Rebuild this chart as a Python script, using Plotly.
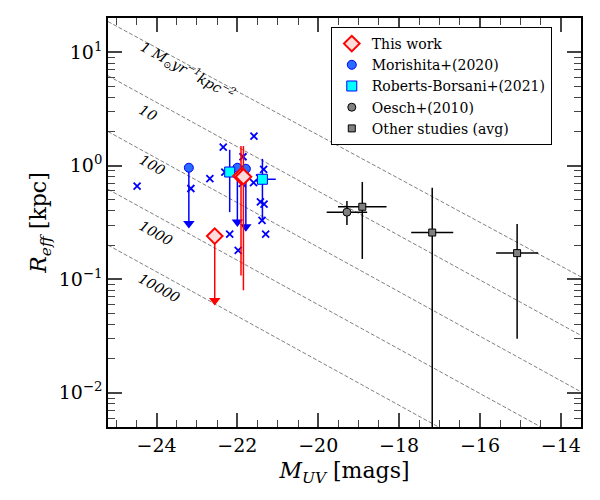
import numpy as np
import plotly.graph_objects as go

# lines of constant SFR surface density, read at the two x limits
sigma_text = ["1 M<sub>⊙</sub>yr<sup>−1</sup>kpc<sup>−2</sup>", "10", "100", "1000", "10000"]
sigma_m = [-25.2, -13.5]
sigma_r_left = [18.6, 6.2, 2.0, 0.62, 0.20]
sigma_r_right = [0.105, 0.032, 0.0102, 0.0032, 0.00102]
label_m = [-23.23, -24.2, -24.1, -24.02, -23.93]
label_r = [6.8, 2.9, 1.02, 0.254, 0.084]

# Morishita+ individual clumps (crosses)
cross_m = [-24.48, -23.15, -22.68, -22.35, -21.59, -21.86, -22.31, -21.35, -21.45,
           -21.6, -21.88, -21.43, -21.34, -21.39, -21.3, -22.19, -21.98]
cross_r = [0.66, 0.63, 0.77, 1.46, 1.82, 1.20, 0.88, 0.93, 0.78,
           0.71, 0.70, 0.48, 0.46, 0.33, 0.25, 0.25, 0.18]

# Morishita+(2020) upper limits
mori_m = [-23.2, -22.0, -21.79]
mori_r = [0.96, 0.96, 0.94]
mori_lim = [0.31, 0.32, 0.29]

# Roberts-Borsani+(2021)
rb_m = [-22.19, -21.38]
rb_r = [0.88, 0.76]
rb_hi = [1.38, 1.15]
rb_lo = [0.39, 0.33]
rb_xplus = [0.0, 0.33]
rb_xminus = [0.0, 0.14]

# This work
tw_m = [-21.91, -21.85]
tw_r = [0.81, 0.80]
tw_hi = [1.49, 1.49]
tw_lo = [0.108, 0.080]
tw_lim_m = [-22.56]
tw_lim_r = [0.24]
tw_lim = [0.065]

# Oesch+(2010)
oe_m = [-19.29]
oe_r = [0.39]
oe_hi = [0.49]
oe_lo = [0.30]
oe_xerr = [0.5]

# Other studies (avg)
ot_m = [-18.91, -17.18, -15.08]
ot_r = [0.435, 0.258, 0.17]
ot_hi = [0.72, 0.64, 0.306]
ot_lo = [0.151, 0.001, 0.030]
ot_xerr = [0.6, 0.52, 0.52]

serif = "DejaVu Serif"
fig = go.Figure()

for i in range(len(sigma_text)):
    fig.add_trace(go.Scatter(
        x=sigma_m, y=[sigma_r_left[i], sigma_r_right[i]], mode="lines",
        line=dict(color="gray", width=1, dash="4px,2px"), showlegend=False, hoverinfo="skip"))
    fig.add_annotation(x=label_m[i], y=np.log10(label_r[i]), text=sigma_text[i],
                       showarrow=False, textangle=29,
                       font=dict(family=serif, size=14, color="black", style="italic"))

fig.add_trace(go.Scatter(
    x=cross_m, y=cross_r, mode="markers", showlegend=False,
    marker=dict(symbol="x-thin", size=7, line=dict(color="blue", width=1.8))))


def sub(a, b):
    return [x - y for x, y in zip(a, b)]


# limit arrows (Morishita)
fig.add_trace(go.Scatter(
    x=mori_m, y=mori_r, mode="markers", showlegend=False,
    error_y=dict(type="data", symmetric=False, array=[0] * 3, arrayminus=sub(mori_r, mori_lim),
                 width=0, thickness=1.5, color="blue"),
    marker=dict(size=1, color="blue")))
fig.add_trace(go.Scatter(
    x=mori_m, y=mori_lim, mode="markers", showlegend=False,
    marker=dict(symbol="triangle-down", size=10, color="blue")))
fig.add_trace(go.Scatter(
    x=mori_m, y=mori_r, mode="markers", name="Morishita+(2020)",
    marker=dict(symbol="circle", size=9, color="#2a6cff", line=dict(color="blue", width=1))))

fig.add_trace(go.Scatter(
    x=rb_m, y=rb_r, mode="markers", name="Roberts-Borsani+(2021)",
    error_y=dict(type="data", symmetric=False, array=sub(rb_hi, rb_r), arrayminus=sub(rb_r, rb_lo),
                 width=0, thickness=1.5, color="blue"),
    error_x=dict(type="data", symmetric=False, array=rb_xplus, arrayminus=rb_xminus,
                 width=0, thickness=1.5, color="blue"),
    marker=dict(symbol="square", size=10, color="cyan", line=dict(color="blue", width=1))))

# This work
fig.add_trace(go.Scatter(
    x=tw_lim_m, y=tw_lim_r, mode="markers", showlegend=False,
    error_y=dict(type="data", symmetric=False, array=[0], arrayminus=sub(tw_lim_r, tw_lim),
                 width=0, thickness=1.5, color="red"),
    marker=dict(size=1, color="red")))
fig.add_trace(go.Scatter(
    x=tw_lim_m, y=tw_lim, mode="markers", showlegend=False,
    marker=dict(symbol="triangle-down", size=10, color="red")))
fig.add_trace(go.Scatter(
    x=tw_m + tw_lim_m, y=tw_r + tw_lim_r, mode="markers", name="This work",
    error_y=dict(type="data", symmetric=False, array=sub(tw_hi, tw_r) + [0],
                 arrayminus=sub(tw_r, tw_lo) + [0], width=0, thickness=1.5, color="red"),
    marker=dict(symbol="diamond", size=12, color="#ffdcdc", line=dict(color="red", width=2))))

fig.add_trace(go.Scatter(
    x=oe_m, y=oe_r, mode="markers", name="Oesch+(2010)",
    error_y=dict(type="data", symmetric=False, array=sub(oe_hi, oe_r), arrayminus=sub(oe_r, oe_lo),
                 width=0, thickness=1.5, color="black"),
    error_x=dict(type="data", array=oe_xerr, width=0, thickness=1.5, color="black"),
    marker=dict(symbol="circle", size=8, color="gray", line=dict(color="black", width=1))))
fig.add_trace(go.Scatter(
    x=ot_m, y=ot_r, mode="markers", name="Other studies (avg)",
    error_y=dict(type="data", symmetric=False, array=sub(ot_hi, ot_r), arrayminus=sub(ot_r, ot_lo),
                 width=0, thickness=1.5, color="black"),
    error_x=dict(type="data", array=ot_xerr, width=0, thickness=1.5, color="black"),
    marker=dict(symbol="square", size=7, color="gray", line=dict(color="black", width=1))))

# legend order like the reference
order = ["This work", "Morishita+(2020)", "Roberts-Borsani+(2021)", "Oesch+(2010)", "Other studies (avg)"]
for tr in fig.data:
    if tr.name in order:
        tr.legendrank = order.index(tr.name) + 1

y_minor = [k * 10.0 ** e for e in range(-3, 2) for k in range(2, 10)]

fig.update_layout(
    width=600, height=500,
    margin=dict(l=100, r=27, t=8, b=81),
    plot_bgcolor="white", paper_bgcolor="white",
    font=dict(family=serif, color="black"),
    legend=dict(x=0.471, y=0.978, xanchor="left", yanchor="top",
                bgcolor="white", bordercolor="black", borderwidth=1,
                font=dict(family=serif, size=14, color="black")),
    xaxis=dict(range=[-25.2, -13.5], dtick=2, tick0=0, ticks="inside", ticklen=14, tickwidth=1.5,
               showline=True, linecolor="black", linewidth=1.5, mirror="allticks",
               showgrid=False, zeroline=False, tickfont=dict(size=19),
               minor=dict(dtick=0.5, tick0=0, ticks="inside", ticklen=7, tickwidth=1.2, showgrid=False),
               title=dict(text="<i>M</i><sub><i>UV</i></sub> [mags]", font=dict(size=22), standoff=8)),
    yaxis=dict(type="log", range=[np.log10(0.005), np.log10(20)],
               tickvals=[0.01, 0.1, 1, 10],
               ticktext=["10<sup>−2</sup>", "10<sup>−1</sup>", "10<sup>0</sup>", "10<sup>1</sup>"],
               ticks="inside", ticklen=14, tickwidth=1.5,
               showline=True, linecolor="black", linewidth=1.5, mirror="allticks",
               showgrid=False, zeroline=False, tickfont=dict(size=19),
               minor=dict(tickvals=y_minor, ticks="inside", ticklen=7, tickwidth=1.2, showgrid=False),
               title=dict(text="<i>R</i><sub><i>eff</i></sub> [kpc]", font=dict(size=22), standoff=6)),
)

fig.write_html("out.html")
